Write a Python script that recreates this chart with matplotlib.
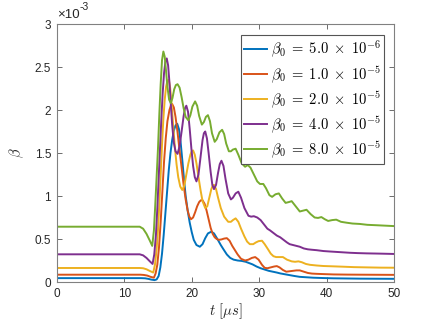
import matplotlib
matplotlib.use("Agg")
import matplotlib.pyplot as plt

plt.rcParams['mathtext.fontset'] = 'cm'
plt.rcParams['font.family'] = ['Liberation Sans', 'DejaVu Sans']

# values of beta in units of 1e-3, time in microseconds
t_blue = [0, 12.5, 13.1, 13.6, 14.0, 14.5, 14.8, 15.1, 15.35, 15.6, 15.85, 16.1, 16.35, 16.6, 16.85, 17.1, 17.35,
          17.6, 17.85, 18.1, 18.35, 18.6, 18.85, 19.1, 19.4, 19.7, 20.0, 20.3, 20.7, 21.2, 21.6, 22.0, 22.4, 22.9,
          23.3, 23.8, 24.3, 24.7, 25.2, 25.7, 26.2, 26.8, 27.4, 28.0, 28.5, 29.0, 29.6, 30.2, 30.8, 31.4, 32.0, 32.6,
          33.1, 33.8, 34.5, 35.2, 36.0, 37.0, 38.0, 39.5, 41.0, 43.0, 45.0, 47.5, 50.0]
beta_blue = [0.045, 0.045, 0.043, 0.036, 0.028, 0.022, 0.03, 0.07, 0.17, 0.33, 0.55, 0.8, 1.05, 1.3, 1.5, 1.65, 1.76,
             1.82, 1.84, 1.78, 1.63, 1.42, 1.2, 1.0, 0.83, 0.69, 0.58, 0.49, 0.43, 0.41, 0.44, 0.51, 0.565, 0.585,
             0.565, 0.50, 0.43, 0.38, 0.32, 0.28, 0.26, 0.25, 0.245, 0.235, 0.22, 0.205, 0.18, 0.16, 0.145, 0.13,
             0.12, 0.11, 0.10, 0.09, 0.08, 0.07, 0.06, 0.055, 0.05, 0.046, 0.043, 0.041, 0.039, 0.038, 0.037]

t_orange = [0, 12.4, 12.9, 13.4, 13.9, 14.4, 14.65, 14.9, 15.15, 15.4, 15.65, 15.9, 16.15, 16.4, 16.7, 16.9, 17.1,
            17.35, 17.6, 17.9, 18.2, 18.5, 18.8, 19.1, 19.4, 19.65, 19.9, 20.2, 20.5, 20.8, 21.1, 21.35, 21.6, 21.9,
            22.2, 22.5, 22.8, 23.1, 23.4, 23.7, 24.0, 24.4, 24.8, 25.2, 25.6, 26.0, 26.4, 26.8, 27.3, 27.9, 28.4,
            28.9, 29.4, 29.9, 30.4, 30.8, 31.2, 31.7, 32.2, 32.6, 33.0, 33.5, 34.0, 34.5, 35.0, 35.5, 36.0, 36.6,
            37.2, 37.8, 38.5, 39.5, 41.0, 43.0, 45.0, 47.5, 50.0]
beta_orange = [0.085, 0.085, 0.082, 0.075, 0.06, 0.05, 0.1, 0.2, 0.4, 0.7, 1.05, 1.4, 1.67, 1.87, 2.0, 2.05, 2.07,
               2.03, 1.92, 1.74, 1.53, 1.33, 1.13, 0.96, 0.83, 0.76, 0.73, 0.75, 0.81, 0.88, 0.93, 0.95, 0.95, 0.91,
               0.83, 0.73, 0.63, 0.56, 0.52, 0.50, 0.49, 0.495, 0.505, 0.51, 0.48, 0.42, 0.37, 0.32, 0.27, 0.25,
               0.26, 0.28, 0.29, 0.26, 0.20, 0.165, 0.16, 0.17, 0.18, 0.185, 0.17, 0.14, 0.12, 0.125, 0.13, 0.135,
               0.135, 0.12, 0.105, 0.098, 0.095, 0.092, 0.088, 0.086, 0.085, 0.084, 0.083]

t_yellow = [0, 12.3, 12.8, 13.3, 13.8, 14.3, 14.55, 14.8, 15.0, 15.2, 15.4, 15.6, 15.8, 16.0, 16.2, 16.4, 16.6, 16.8,
            17.0, 17.25, 17.5, 17.75, 18.0, 18.3, 18.6, 18.9, 19.2, 19.5, 19.8, 20.0, 20.2, 20.45, 20.7, 21.0, 21.3,
            21.6, 22.0, 22.3, 22.6, 22.9, 23.1, 23.3, 23.6, 23.9, 24.3, 24.8, 25.4, 25.8, 26.1, 26.5, 26.9, 27.3,
            27.8, 28.2, 28.6, 29.1, 29.5, 29.9, 30.4, 30.8, 31.3, 31.7, 32.1, 32.5, 33.0, 33.5, 34.1, 34.8, 35.3,
            35.8, 36.3, 36.9, 37.5, 38.5, 39.5, 41.0, 42.4, 44.0, 45.9, 48.0, 50.0]
beta_yellow = [0.163, 0.163, 0.16, 0.148, 0.128, 0.11, 0.2, 0.38, 0.6, 0.9, 1.25, 1.6, 1.9, 2.12, 2.27, 2.34, 2.35,
               2.26, 2.08, 1.82, 1.57, 1.37, 1.22, 1.11, 1.07, 1.12, 1.25, 1.38, 1.48, 1.52, 1.53, 1.48, 1.38, 1.22,
               1.07, 0.94, 0.86, 0.88, 0.98, 1.08, 1.12, 1.13, 1.08, 0.98, 0.86, 0.76, 0.70, 0.70, 0.72, 0.74, 0.70,
               0.62, 0.53, 0.47, 0.44, 0.44, 0.46, 0.475, 0.48, 0.44, 0.38, 0.33, 0.30, 0.29, 0.29, 0.29, 0.26, 0.24,
               0.235, 0.24, 0.23, 0.21, 0.20, 0.192, 0.186, 0.182, 0.178, 0.173, 0.17, 0.167, 0.166]

t_purple = [0, 12.3, 12.8, 13.3, 13.8, 14.2, 14.45, 14.7, 14.9, 15.1, 15.3, 15.5, 15.7, 15.9, 16.1, 16.3, 16.5, 16.7,
            16.9, 17.1, 17.35, 17.6, 17.9, 18.2, 18.5, 18.8, 19.0, 19.2, 19.45, 19.7, 19.95, 20.2, 20.45, 20.7, 21.0,
            21.3, 21.6, 21.8, 22.0, 22.25, 22.5, 22.8, 23.05, 23.3, 23.6, 23.9, 24.15, 24.4, 24.7, 25.0, 25.4, 25.8,
            26.1, 26.5, 26.9, 27.3, 27.8, 28.4, 28.8, 29.2, 29.7, 30.2, 30.7, 31.2, 31.6, 32.1, 32.6, 33.1, 33.6,
            34.1, 34.5, 35.0, 35.5, 36.0, 36.6, 37.2, 37.8, 38.5, 39.5, 40.4, 41.4, 42.4, 43.4, 44.6, 45.9, 47.9,
            50.0]
beta_purple = [0.322, 0.322, 0.31, 0.28, 0.24, 0.21, 0.32, 0.55, 0.85, 1.2, 1.55, 1.9, 2.2, 2.43, 2.56, 2.60, 2.52,
               2.32, 2.07, 1.83, 1.62, 1.52, 1.49, 1.58, 1.75, 1.93, 2.02, 2.05, 1.98, 1.78, 1.55, 1.35, 1.22, 1.17,
               1.25, 1.45, 1.65, 1.73, 1.75, 1.67, 1.50, 1.28, 1.13, 1.08, 1.13, 1.27, 1.37, 1.41, 1.35, 1.20, 1.03,
               0.96, 0.98, 1.03, 1.05, 0.98, 0.86, 0.77, 0.76, 0.765, 0.75, 0.72, 0.67, 0.62, 0.60, 0.57, 0.54, 0.52,
               0.49, 0.46, 0.44, 0.43, 0.42, 0.41, 0.39, 0.38, 0.375, 0.37, 0.36, 0.355, 0.35, 0.345, 0.34, 0.336,
               0.333, 0.33, 0.326]

t_green = [0, 12.3, 12.8, 13.3, 13.8, 14.15, 14.4, 14.6, 14.8, 15.0, 15.2, 15.4, 15.6, 15.8, 16.0, 16.2, 16.4, 16.65,
           16.9, 17.15, 17.4, 17.65, 17.9, 18.2, 18.5, 18.8, 19.1, 19.5, 19.8, 20.1, 20.5, 20.8, 21.1, 21.5, 21.8,
           22.1, 22.4, 22.7, 23.0, 23.4, 23.7, 24.1, 24.5, 24.8, 25.1, 25.5, 25.8, 26.1, 26.5, 26.9, 27.4, 27.9,
           28.3, 28.7, 29.2, 29.7, 30.1, 30.6, 31.0, 31.5, 31.9, 32.4, 32.9, 33.4, 33.9, 34.4, 34.8, 35.4, 36.0,
           36.5, 37.0, 37.6, 38.2, 38.7, 39.2, 39.7, 40.2, 40.8, 41.4, 42.1, 42.9, 43.8, 44.9, 46.0, 47.4, 48.7,
           50.0]
beta_green = [0.643, 0.643, 0.62, 0.56, 0.48, 0.42, 0.6, 0.9, 1.22, 1.55, 1.95, 2.3, 2.58, 2.68, 2.62, 2.45, 2.27,
              2.12, 2.08, 2.14, 2.24, 2.29, 2.30, 2.26, 2.15, 2.02, 1.92, 1.88, 1.94, 2.04, 2.10, 2.05, 1.93, 1.83,
              1.86, 1.92, 1.94, 1.87, 1.73, 1.63, 1.66, 1.74, 1.77, 1.72, 1.61, 1.52, 1.52, 1.54, 1.55, 1.48, 1.38,
              1.34, 1.36, 1.33, 1.25, 1.17, 1.14, 1.14, 1.09, 1.01, 0.99, 1.02, 1.03, 0.97, 0.92, 0.93, 0.94, 0.88,
              0.82, 0.83, 0.84, 0.79, 0.75, 0.745, 0.755, 0.73, 0.71, 0.72, 0.725, 0.70, 0.69, 0.68, 0.675, 0.665,
              0.66, 0.655, 0.65]

labels = [r'$\beta_0 \;=\; 5.0 \;\times\; 10^{-6}$', r'$\beta_0 \;=\; 1.0 \;\times\; 10^{-5}$',
          r'$\beta_0 \;=\; 2.0 \;\times\; 10^{-5}$', r'$\beta_0 \;=\; 4.0 \;\times\; 10^{-5}$',
          r'$\beta_0 \;=\; 8.0 \;\times\; 10^{-5}$']
colors = ['#0072BD', '#D95319', '#EDB120', '#7E2F8E', '#77AC30']
xticks = [0, 10, 20, 30, 40, 50]
yticks = [0, 0.5, 1, 1.5, 2, 2.5, 3]
ytick_labels = ['0', '0.5', '1', '1.5', '2', '2.5', '3']

fig = plt.figure(figsize=(4.36, 3.27), dpi=100)
ax = fig.add_axes([0.1300, 0.1376, 0.7744, 0.7890])

series = [(t_blue, beta_blue), (t_orange, beta_orange), (t_yellow, beta_yellow),
          (t_purple, beta_purple), (t_green, beta_green)]
for (tt, bb), c, lab in zip(series, colors, labels):
    ax.plot(tt, bb, color=c, lw=1.4, label=lab, solid_joinstyle='round')

ax.set_xlim(0, 50)
ax.set_ylim(0, 3)
ax.set_xticks(xticks)
ax.set_yticks(yticks)
ax.set_yticklabels(ytick_labels)
axcol = '#262626'
for s in ax.spines.values():
    s.set_color('#808080')
    s.set_linewidth(0.8)
ax.tick_params(direction='in', top=True, right=True, length=3.5, width=0.6, color='#555555',
               labelsize=8.5, labelcolor=axcol, pad=4)

ax.set_xlabel(r'$t\ [\mu s]$', fontsize=10.5, color=axcol, labelpad=1)
ax.set_ylabel(r'$\beta$', fontsize=10.5, color=axcol, labelpad=6)

ax.text(0.0, 1.010, '×10', transform=ax.transAxes, fontsize=9.5, color=axcol, ha='left', va='bottom')
ax.text(0.067, 1.048, '-3', transform=ax.transAxes, fontsize=7.5, color=axcol, ha='left', va='bottom')

leg = ax.legend(loc='upper right', bbox_to_anchor=(0.970, 0.9585), borderaxespad=0, fontsize=10.5,
                handlelength=1.55, handletextpad=0.25, labelspacing=0.3, borderpad=0.25, fancybox=False,
                framealpha=1, edgecolor='#555555')
leg.get_frame().set_linewidth(0.8)

fig.savefig('out.png', dpi=100)
